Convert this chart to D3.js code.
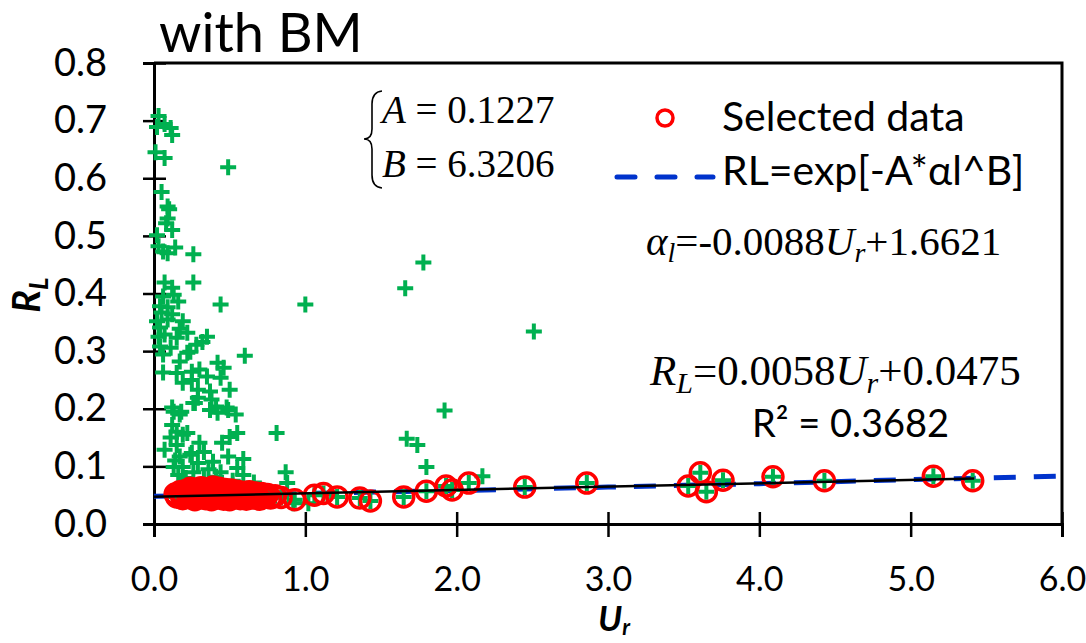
<!DOCTYPE html>
<html>
<head>
<meta charset="utf-8">
<script src="https://cdn.jsdelivr.net/npm/d3@7"></script>
<style>
  html, body { margin: 0; padding: 0; background: #fff; }
  svg { display: block; }
  .sans { font-family: Lato, "Open Sans", sans-serif; }
  .serif { font-family: "Liberation Serif", "DejaVu Serif", serif; }
</style>
</head>
<body>
<div id="chart"></div>
<script>
// selected data (red circles, also plotted as green pluses)
const selectedUr = [
  0.14, 0.15, 0.17, 0.18, 0.19, 0.21, 0.22, 0.23, 0.24, 0.25, 0.26, 0.27, 0.28, 0.29, 0.30,
  0.31, 0.32, 0.33, 0.34, 0.35, 0.36, 0.37, 0.38, 0.39, 0.40, 0.41, 0.42, 0.43, 0.44, 0.45,
  0.46, 0.47, 0.48, 0.49, 0.50, 0.51, 0.52, 0.53, 0.55, 0.56, 0.57, 0.59, 0.60, 0.61, 0.63,
  0.64, 0.65, 0.67, 0.68, 0.70, 0.71, 0.73, 0.75, 0.77, 0.80, 0.84,
  0.93, 1.06, 1.12, 1.21, 1.36, 1.43, 1.65, 1.80, 1.93, 1.97, 2.08, 2.45, 2.86,
  3.53, 3.61, 3.65, 3.76, 4.09, 4.43, 5.15, 5.41
];
const selectedRL = [
  0.052, 0.047, 0.056, 0.050, 0.044, 0.058, 0.052, 0.046, 0.062, 0.055, 0.048, 0.042, 0.060, 0.053, 0.046,
  0.063, 0.057, 0.050, 0.044, 0.061, 0.055, 0.048, 0.042, 0.064, 0.058, 0.051, 0.045, 0.062, 0.056, 0.049,
  0.043, 0.060, 0.054, 0.047, 0.042, 0.059, 0.053, 0.046, 0.057, 0.050, 0.044, 0.055, 0.049, 0.043, 0.056,
  0.050, 0.045, 0.054, 0.048, 0.043, 0.053, 0.047, 0.051, 0.045, 0.049, 0.046,
  0.042, 0.050, 0.053, 0.047, 0.045, 0.040, 0.047, 0.057, 0.066, 0.059, 0.071, 0.064, 0.071,
  0.066, 0.089, 0.056, 0.076, 0.082, 0.075, 0.083, 0.075
];

// remaining data (green pluses only)
const otherUr = [
  0.03, 0.02, 0.07, 0.11, 0.12, 0.01, 0.07, 0.49, 0.05, 0.09, 0.10, 0.09, 0.08, 0.12, 0.02,
  0.03, 0.06, 0.09, 0.14, 0.26, 0.07, 0.26, 0.12, 0.13, 0.06, 0.16, 0.44, 0.04, 0.09, 0.05,
  0.12, 0.02, 0.09, 0.19, 0.04, 0.17, 0.22, 0.03, 0.07, 0.15, 0.35, 0.32, 0.28, 0.04, 0.11,
  0.60, 0.24, 0.06, 0.22, 0.17, 0.42, 0.46, 0.06, 0.15, 0.25, 0.30, 0.35, 0.44, 0.19, 0.25,
  0.50, 0.29, 0.37, 0.29, 0.38, 0.26, 0.41, 0.13, 0.18, 0.37, 0.42, 0.49, 0.54, 0.12, 0.17,
  0.27, 0.48, 0.12, 0.15, 0.19, 0.11, 0.07, 0.15, 0.22, 0.30, 0.25, 0.17, 0.55, 0.50, 0.45,
  0.49, 0.59, 0.81, 0.39, 0.29, 0.55, 0.19, 0.13, 0.44, 0.59, 0.87, 0.88, 0.92, 1.02,
  1.00, 1.66, 1.78, 2.51, 1.92, 1.67, 1.74, 1.80, 2.17,
  0.16, 0.21, 0.26, 0.33, 0.36, 0.24, 0.33, 0.14, 0.41, 0.52, 0.66
];
const otherRL = [
  0.708, 0.689, 0.694, 0.687, 0.675, 0.645, 0.635, 0.619, 0.576, 0.551, 0.546, 0.530, 0.522, 0.510, 0.501,
  0.482, 0.473, 0.470, 0.480, 0.468, 0.419, 0.419, 0.410, 0.398, 0.395, 0.386, 0.381, 0.378, 0.376, 0.367,
  0.364, 0.352, 0.355, 0.352, 0.341, 0.339, 0.332, 0.325, 0.329, 0.323, 0.325, 0.316, 0.311, 0.308, 0.306,
  0.292, 0.299, 0.294, 0.297, 0.282, 0.280, 0.271, 0.263, 0.262, 0.264, 0.268, 0.256, 0.254, 0.245, 0.250,
  0.233, 0.233, 0.230, 0.219, 0.216, 0.210, 0.204, 0.195, 0.195, 0.198, 0.193, 0.198, 0.190, 0.202, 0.190,
  0.210, 0.202, 0.172, 0.160, 0.155, 0.150, 0.129, 0.137, 0.158, 0.141, 0.123, 0.117, 0.158, 0.151, 0.141,
  0.117, 0.113, 0.158, 0.108, 0.106, 0.097, 0.099, 0.099, 0.090, 0.085, 0.090, 0.071, 0.036, 0.036,
  0.381, 0.409, 0.454, 0.334, 0.197, 0.148, 0.137, 0.099, 0.083,
  0.085, 0.080, 0.090, 0.078, 0.095, 0.120, 0.125, 0.110, 0.082, 0.075, 0.072
];

// RL = exp[-A*αl^B] curve
const curveUr = [0, 1, 2, 3, 4, 5, 6];
const curveRL = [0.048, 0.053, 0.058, 0.064, 0.070, 0.077, 0.083];

// linear trendline of the selected data
const trendUr = [0, 5.42];
const trendRL = [0.0475, 0.0789];

const xTicks = [0, 1, 2, 3, 4, 5, 6];
const yTicks = [0, 0.1, 0.2, 0.3, 0.4, 0.5, 0.6, 0.7, 0.8];

const W = 1086, H = 643;
const PLOT = { left: 154, right: 1062, top: 63, bottom: 524 };
const GREEN = '#00b050';
const RED = '#ff0000';
const BLUE = '#0033cc';

const svg = d3.select('#chart').append('svg')
  .attr('width', W).attr('height', H);

const x = d3.scaleLinear().domain([0, 6]).range([PLOT.left, PLOT.right]);
const y = d3.scaleLinear().domain([0, 0.8]).range([PLOT.bottom, PLOT.top]);

// plot frame (top + right)
svg.append('path')
  .attr('d', `M${PLOT.left},${PLOT.top}H${PLOT.right}V${PLOT.bottom}`)
  .attr('fill', 'none').attr('stroke', '#000').attr('stroke-width', 3);

// axes
const yAxis = svg.append('g')
  .attr('class', 'sans')
  .attr('transform', `translate(${PLOT.left},0)`)
  .call(d3.axisLeft(y).tickValues(yTicks).tickFormat(d3.format('.1f')).tickSize(11).tickPadding(36));
const xAxis = svg.append('g')
  .attr('class', 'sans')
  .attr('transform', `translate(0,${PLOT.bottom})`)
  .call(d3.axisBottom(x).tickValues(xTicks).tickFormat(d3.format('.1f')).tickSize(13).tickPadding(30));

for (const g of [yAxis, xAxis]) {
  g.select('.domain').attr('stroke-width', 3).attr('stroke', '#000');
  g.selectAll('.tick line').attr('stroke-width', 2.5).attr('stroke', '#000');
  g.selectAll('.tick text').attr('fill', '#000').attr('font-family', 'Lato, sans-serif');
}
yAxis.selectAll('.tick text').attr('font-size', 38);
xAxis.selectAll('.tick text').attr('font-size', 34);
// ticks cross the axis line
yAxis.selectAll('.tick line').attr('x1', 12);
xAxis.selectAll('.tick line').attr('y1', -12);

// fitted exp curve
svg.append('path')
  .datum(curveUr.map((u, i) => [u, curveRL[i]]))
  .attr('fill', 'none')
  .attr('stroke', BLUE)
  .attr('stroke-width', 5)
  .attr('stroke-dasharray', '22,18')
  .attr('d', d3.line().x(d => x(d[0])).y(d => y(d[1])));

// all data as green pluses
const allData = otherUr.map((u, i) => [u, otherRL[i]])
  .concat(selectedUr.map((u, i) => [u, selectedRL[i]]));
svg.append('g')
  .selectAll('path')
  .data(allData)
  .join('path')
  .attr('d', d => `M${x(d[0]) - 8},${y(d[1])}h16M${x(d[0])},${y(d[1]) - 8}v16`)
  .attr('stroke', GREEN)
  .attr('stroke-width', 4)
  .attr('fill', 'none');

// selected data as red circles
svg.append('g')
  .selectAll('circle')
  .data(selectedUr.map((u, i) => [u, selectedRL[i]]))
  .join('circle')
  .attr('cx', d => x(d[0]))
  .attr('cy', d => y(d[1]))
  .attr('r', 10)
  .attr('fill', 'none')
  .attr('stroke', RED)
  .attr('stroke-width', 3.5);

// linear trendline
svg.append('path')
  .datum(trendUr.map((u, i) => [u, trendRL[i]]))
  .attr('fill', 'none')
  .attr('stroke', '#000')
  .attr('stroke-width', 2.5)
  .attr('d', d3.line().x(d => x(d[0])).y(d => y(d[1])));

// title
svg.append('text').attr('class', 'sans')
  .attr('x', 159).attr('y', 52)
  .attr('font-size', 54)
  .text('with BM');

// axis titles
svg.append('text').attr('class', 'sans')
  .attr('transform', 'translate(40,295) rotate(-90)')
  .attr('text-anchor', 'middle')
  .attr('font-size', 38).attr('font-weight', 'bold').attr('font-style', 'italic')
  .call(t => {
    t.append('tspan').text('R');
    t.append('tspan').attr('dy', 8).attr('font-size', 26).text('L');
  });
svg.append('text').attr('class', 'sans')
  .attr('x', 614).attr('y', 631)
  .attr('text-anchor', 'middle')
  .attr('font-size', 35).attr('font-weight', 'bold').attr('font-style', 'italic')
  .call(t => {
    t.append('tspan').text('U');
    t.append('tspan').attr('dy', 4).attr('font-size', 22).text('r');
  });

// legend
const legend = svg.append('g').attr('class', 'sans');
legend.append('circle')
  .attr('cx', 665).attr('cy', 118).attr('r', 8)
  .attr('fill', 'none').attr('stroke', RED).attr('stroke-width', 3.5);
legend.append('text').attr('x', 722).attr('y', 131).attr('font-size', 41).text('Selected data');
legend.append('line')
  .attr('x1', 617).attr('x2', 713).attr('y1', 177).attr('y2', 177)
  .attr('stroke', BLUE).attr('stroke-width', 5)
  .attr('stroke-linecap', 'round').attr('stroke-dasharray', '18,22');
legend.append('text').attr('x', 722).attr('y', 185).attr('font-size', 41).text('RL=exp[-A*αl^B]');

// parameter box
svg.append('path')
  .attr('d', 'M382,91 Q372,92 372,104 V129 Q372,139 364,139 Q372,139 372,149 V175 Q372,187 382,188')
  .attr('fill', 'none').attr('stroke', '#000').attr('stroke-width', 1.6);
const params = svg.append('g').attr('class', 'serif').attr('font-size', 39);
params.append('text').attr('x', 382).attr('y', 123)
  .call(t => {
    t.append('tspan').attr('font-style', 'italic').text('A');
    t.append('tspan').text(' = 0.1227');
  });
params.append('text').attr('x', 382).attr('y', 177)
  .call(t => {
    t.append('tspan').attr('font-style', 'italic').text('B');
    t.append('tspan').text(' = 6.3206');
  });

// alpha relation
svg.append('text').attr('class', 'serif')
  .attr('x', 646).attr('y', 255).attr('font-size', 41)
  .call(t => {
    t.append('tspan').attr('font-style', 'italic').text('α');
    t.append('tspan').attr('font-style', 'italic').attr('dy', 7).attr('font-size', 28).text('l');
    t.append('tspan').attr('dy', -7).text('=-0.0088');
    t.append('tspan').attr('font-style', 'italic').text('U');
    t.append('tspan').attr('font-style', 'italic').attr('dy', 7).attr('font-size', 28).text('r');
    t.append('tspan').attr('dy', -7).text('+1.6621');
  });

// trendline equation
svg.append('text').attr('class', 'serif')
  .attr('x', 650).attr('y', 385).attr('font-size', 43)
  .call(t => {
    t.append('tspan').attr('font-style', 'italic').text('R');
    t.append('tspan').attr('font-style', 'italic').attr('dy', 8).attr('font-size', 30).text('L');
    t.append('tspan').attr('dy', -8).text('=0.0058');
    t.append('tspan').attr('font-style', 'italic').text('U');
    t.append('tspan').attr('font-style', 'italic').attr('dy', 8).attr('font-size', 30).text('r');
    t.append('tspan').attr('dy', -8).text('+0.0475');
  });
svg.append('text').attr('class', 'sans')
  .attr('x', 752).attr('y', 437).attr('font-size', 38)
  .text('R² = 0.3682');
</script>
</body>
</html>
